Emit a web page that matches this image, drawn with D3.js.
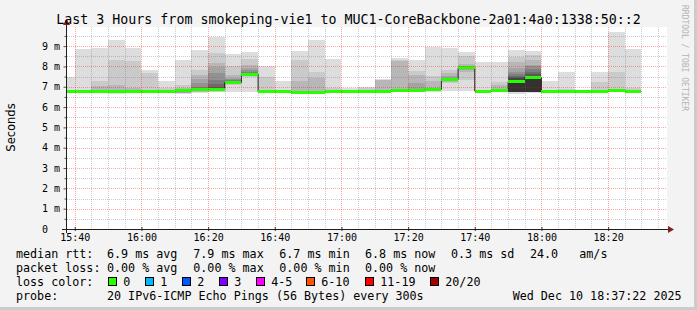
<!DOCTYPE html>
<html>
<head>
<meta charset="utf-8">
<script src="https://cdnjs.cloudflare.com/ajax/libs/d3/7.8.5/d3.min.js"></script>
<style>
  body { margin: 0; background: #f3f3f3; }
  text { font-family: "DejaVu Sans Mono", monospace; fill: #000; }
</style>
</head>
<body>
<div id="chart"></div>
<script>
// 5 minute steps, first one ends 15:40 (UTC used only as a plain clock)
var firstEnd = Date.UTC(2025, 11, 10, 15, 40);
var stepMs = 300 * 1000;

// median rtt per step, ms
var median = [6.76, 6.76, 6.76, 6.76, 6.76, 6.76, 6.76, 6.80, 6.84, 6.88,
              7.21, 7.62, 6.76, 6.76, 6.74, 6.72, 6.78, 6.78, 6.78, 6.79,
              6.83, 6.83, 6.88, 7.37, 7.93, 6.78, 6.82, 7.25, 7.45, 6.76,
              6.76, 6.76, 6.76, 6.81, 6.77];

// smoke: upper edge of each nested band (outermost first), ms
var smokeTop = [
  [7.50], [8.87, 6.85], [8.93, 7.29, 7.05], [9.31, 8.33, 7.08], [8.92, 8.28, 6.92],
  [7.83, 7.67], [7.29, 6.93], [8.33, 7.09, 6.95],
  [8.82, 7.83, 7.59, 7.37, 7.18, 7.01, 6.92],
  [9.43, 8.65, 8.17, 7.95, 7.67, 7.34, 7.12, 6.98],
  [8.61, 8.00, 7.60, 7.45, 7.40, 7.35, 7.30, 7.26],
  [8.69, 8.38, 8.08, 7.92, 7.82, 7.75, 7.70],
  [8.02, 7.50], [7.29], [8.77, 8.30, 7.27], [9.31, 7.75, 7.45], [8.37, 6.93],
  [6.92], [7.01, 6.92], [7.37, 7.34, 7.32], [8.42, 8.30, 8.25],
  [8.33, 7.76, 7.60, 7.16], [8.98, 7.52, 7.27],
  [8.92, 7.83, 7.69, 7.55, 7.45],
  [8.69, 8.52, 8.14, 8.04, 8.00, 7.97],
  [8.22], [8.24, 7.21, 7.08],
  [8.82, 8.44, 8.21, 7.92, 7.75, 7.62, 7.55, 7.50, 7.45, 7.35],
  [8.77, 8.55, 8.34, 8.08, 8.00, 7.85, 7.75, 7.62, 7.54, 7.50],
  [7.26], [7.75, 6.88], [6.82], [7.75, 7.21], [9.67, 7.75, 6.90], [8.87, 6.93]
];

// smoke: lower edge of each nested band (outermost first), ms
var smokeBot = [
  [6.72], [6.72], [6.72], [6.66, 6.70], [6.72],
  [6.72], [6.72], [6.64, 6.68, 6.70, 6.70],
  [6.70, 6.74, 6.76, 6.78],
  [6.72, 6.76, 6.79, 6.82],
  [6.76, 7.08, 7.12, 7.15, 7.17],
  [6.76, 7.50, 7.55, 7.58],
  [6.72], [6.72], [6.70], [6.65, 6.68], [6.72],
  [6.72], [6.72], [6.72, 6.74, 6.76], [6.74, 6.76, 6.78],
  [6.72, 6.75], [6.74, 6.78],
  [6.78, 7.18, 7.22, 7.26, 7.30],
  [6.77, 7.34, 7.75, 7.80, 7.85],
  [6.72], [6.72, 6.74, 6.76],
  [6.64, 6.74, 6.75, 6.75, 6.76, 6.76, 6.76, 6.76, 6.76, 6.76],
  [6.70, 6.73, 6.74, 6.75, 6.76, 6.76, 6.76, 6.76, 6.76, 6.76],
  [6.72], [6.72], [6.72], [6.72], [6.72, 6.74], [6.70]
];

var xTickLabels = ["15:40", "16:00", "16:20", "16:40", "17:00", "17:20", "17:40", "18:00", "18:20"];
var yTicks = [0, 1, 2, 3, 4, 5, 6, 7, 8, 9];

var rttStats = ["6.9 ms avg", "7.9 ms max", "6.7 ms min", "6.8 ms now", "0.3 ms sd", "24.0", "am/s"];
var lossStats = ["0.00 % avg", "0.00 % max", "0.00 % min", "0.00 % now"];
var lossLabels = ["0", "1", "2", "3", "4-5", "6-10", "11-19", "20/20"];
var lossColors = ["#26ff00", "#00b8ff", "#0059ff", "#7e00ff", "#ff00ff", "#ff5500", "#ff0000", "#a10000"];
var probeText = "20 IPv6-ICMP Echo Pings (56 Bytes) every 300s";
var stampText = "Wed Dec 10 18:37:22 2025";
var titleText = "Last 3 Hours from smokeping-vie1 to MUC1-CoreBackbone-2a01:4a0:1338:50::2";

// layout
var width = 697, height = 310;
var plotL = 67, plotR = 667, plotT = 27, plotB = 229;

function clock(hm) {
    var p = hm.split(":");
    return Date.UTC(2025, 11, 10, +p[0], +p[1]);
}

var tStart = Date.UTC(2025, 11, 10, 15, 37, 40);
var x = d3.scaleUtc()
    .domain([tStart, tStart + 3 * 3600 * 1000])
    .range([plotL, plotR]);

var y = d3.scaleLinear()
    .domain([0, 9.94])
    .range([plotB, plotT]);

var svg = d3.select("#chart").append("svg")
    .attr("width", width)
    .attr("height", height);

// background + frame shading
svg.append("rect").attr("width", width).attr("height", height).attr("fill", "#f3f3f3");
svg.append("rect").attr("x", width - 3).attr("y", 0).attr("width", 3).attr("height", height).attr("fill", "#cbcbcb");
svg.append("rect").attr("x", 0).attr("y", height - 3).attr("width", width).attr("height", 3).attr("fill", "#cbcbcb");

// canvas
svg.append("rect")
    .attr("x", plotL).attr("y", plotT)
    .attr("width", plotR - plotL).attr("height", plotB - plotT)
    .attr("fill", "#ffffff");

svg.append("clipPath").attr("id", "plotclip")
    .append("rect")
    .attr("x", plotL).attr("y", plotT)
    .attr("width", plotR - plotL).attr("height", plotB - plotT);

var plot = svg.append("g").attr("clip-path", "url(#plotclip)");

var steps = median.map(function(m, i) {
    var end = firstEnd + i * stepMs;
    return { start: end - stepMs, end: end, median: m, top: smokeTop[i], bot: smokeBot[i] };
});

// smoke bands, outermost (light) to innermost (dark)
var bands = [];
steps.forEach(function(s) {
    for (var k = 0; k < 10; k++) {
        if (s.top[k] === undefined && s.bot[k] === undefined) continue;
        var hi = s.top[k] !== undefined ? s.top[k] : s.median;
        var lo = s.bot[k] !== undefined ? s.bot[k] : s.median;
        bands.push({ start: s.start, end: s.end, lo: lo, hi: hi, k: k });
    }
});

plot.selectAll("rect.smoke")
    .data(bands)
    .enter().append("rect")
    .attr("class", "smoke")
    .attr("x", function(d) { return x(d.start); })
    .attr("width", function(d) { return x(d.end) - x(d.start); })
    .attr("y", function(d) { return y(d.hi); })
    .attr("height", function(d) { return Math.max(0, y(d.lo) - y(d.hi)); })
    .attr("fill", function(d) {
        var g = Math.floor(190 / 10 * (10 - (d.k + 1))) + 50;
        return d3.rgb(g, g, g);
    })
    .attr("shape-rendering", "crispEdges");

// median step line (dark, mostly under the loss colour bar)
var linePts = steps.map(function(s) { return [s.start, s.median]; });
linePts.push([steps[steps.length - 1].end, steps[steps.length - 1].median]);

plot.append("path")
    .datum(linePts)
    .attr("fill", "none")
    .attr("stroke", "#202020")
    .attr("stroke-width", 1)
    .attr("d", d3.line()
        .x(function(d) { return x(d[0]); })
        .y(function(d) { return y(d[1]); })
        .curve(d3.curveStepAfter));

// median bar coloured by loss (all 0 loss here)
plot.selectAll("rect.med")
    .data(steps)
    .enter().append("rect")
    .attr("class", "med")
    .attr("x", function(d) { return x(d.start); })
    .attr("width", function(d) { return x(d.end) - x(d.start); })
    .attr("y", function(d) { return y(d.median) - 1.5; })
    .attr("height", 3)
    .attr("fill", lossColors[0])
    .attr("shape-rendering", "crispEdges");

// grid on top
var grid = svg.append("g").attr("shape-rendering", "crispEdges");
var minorY = d3.range(0.5, 10, 1);
grid.selectAll("line.hy")
    .data(minorY)
    .enter().append("line")
    .attr("x1", plotL).attr("x2", plotR)
    .attr("y1", function(d) { return Math.round(y(d)) + 0.5; })
    .attr("y2", function(d) { return Math.round(y(d)) + 0.5; })
    .attr("stroke", "rgba(110,110,110,0.35)")
    .attr("stroke-dasharray", "1,1");
grid.selectAll("line.my")
    .data(yTicks.slice(1))
    .enter().append("line")
    .attr("x1", plotL).attr("x2", plotR)
    .attr("y1", function(d) { return Math.round(y(d)) + 0.5; })
    .attr("y2", function(d) { return Math.round(y(d)) + 0.5; })
    .attr("stroke", "rgba(255,0,0,0.35)")
    .attr("stroke-dasharray", "1,1");

var minorX = d3.utcMinute.every(5).range(new Date(tStart), new Date(tStart + 3 * 3600 * 1000));
var majorSet = {};
xTickLabels.forEach(function(l) { majorSet[clock(l)] = true; });
grid.selectAll("line.vx")
    .data(minorX)
    .enter().append("line")
    .attr("y1", plotT).attr("y2", plotB)
    .attr("x1", function(d) { return Math.round(x(d)) + 0.5; })
    .attr("x2", function(d) { return Math.round(x(d)) + 0.5; })
    .attr("stroke", function(d) { return majorSet[+d] ? "rgba(255,0,0,0.35)" : "rgba(110,110,110,0.35)"; })
    .attr("stroke-dasharray", "1,1");

// axes
var xAxis = d3.axisBottom(x)
    .tickValues(xTickLabels.map(clock))
    .tickFormat(d3.utcFormat("%H:%M"))
    .tickSize(2);

var gx = svg.append("g")
    .attr("transform", "translate(0," + plotB + ")")
    .call(xAxis);
gx.select(".domain").remove();
gx.selectAll(".tick line").attr("y1", -2).attr("stroke", "#333");
gx.selectAll(".tick text")
    .attr("y", 12).attr("dy", null)
    .style("font-family", "DejaVu Sans Mono")
    .style("font-size", "10px");

var yAxis = d3.axisLeft(y)
    .tickValues(yTicks)
    .tickFormat(function(d) { return d === 0 ? "0  " : d + " m"; })
    .tickSize(3)
    .tickPadding(3.5);

var gy = svg.append("g")
    .attr("transform", "translate(" + (plotL - 0.5) + ",0)")
    .call(yAxis);
gy.select(".domain").remove();
gy.selectAll(".tick line").attr("stroke", "#555");
gy.selectAll(".tick text")
    .style("font-family", "DejaVu Sans Mono")
    .style("font-size", "10px")
    .style("white-space", "pre");

var gyMinor = svg.append("g")
    .attr("transform", "translate(" + (plotL - 0.5) + ",0)")
    .call(d3.axisLeft(y).tickValues(minorY).tickSize(2).tickFormat(""));
gyMinor.select(".domain").remove();
gyMinor.selectAll(".tick line").attr("stroke", "#555");

// axis lines with arrows
svg.append("line")
    .attr("x1", plotL - 5).attr("x2", plotR + 2)
    .attr("y1", plotB + 0.5).attr("y2", plotB + 0.5)
    .attr("stroke", "#1f1f1f");
svg.append("line")
    .attr("x1", plotL - 0.5).attr("x2", plotL - 0.5)
    .attr("y1", plotB + 4).attr("y2", plotT - 3)
    .attr("stroke", "#1f1f1f");
svg.append("path")
    .attr("d", "M" + (plotR + 1) + "," + (plotB - 3) + "L" + (plotR + 7) + "," + (plotB + 0.5) + "L" + (plotR + 1) + "," + (plotB + 4) + "Z")
    .attr("fill", "#7f1f1f");
svg.append("path")
    .attr("d", "M" + (plotL - 4) + "," + (plotT - 2) + "L" + (plotL - 0.5) + "," + (plotT - 8) + "L" + (plotL + 3) + "," + (plotT - 2) + "Z")
    .attr("fill", "#7f1f1f");

// title
svg.append("text")
    .attr("x", width / 2)
    .attr("y", 24)
    .attr("text-anchor", "middle")
    .style("font-size", "13.3px")
    .text(titleText);

// y label
svg.append("text")
    .attr("transform", "translate(15,127.5) rotate(-90)")
    .attr("text-anchor", "middle")
    .style("font-family", "'DejaVu Sans', sans-serif")
    .style("font-size", "11.5px")
    .text("Seconds");

// watermark
svg.append("text")
    .attr("transform", "translate(682,5) rotate(90)")
    .style("font-size", "8px")
    .style("fill", "#b4b4b4")
    .text("RRDTOOL / TOBI OETIKER");

// legend
var legendSize = "11.7px";
var rowY = [258, 272, 286, 300];
var colX = [107, 193.3, 279.3, 365, 451, 530, 579.3];
var rowLabels = ["median rtt:", "packet loss:", "loss color:", "probe:"];

var leg = svg.append("g").style("font-size", legendSize);
rowLabels.forEach(function(l, i) {
    leg.append("text").attr("x", 16).attr("y", rowY[i]).text(l);
});
rttStats.forEach(function(s, i) {
    leg.append("text").attr("x", colX[i]).attr("y", rowY[0]).text(s);
});
lossStats.forEach(function(s, i) {
    leg.append("text").attr("x", colX[i]).attr("y", rowY[1]).text(s);
});

var boxX = [108.5, 145.5, 182.5, 219.5, 256.5, 306.5, 365.5, 430.5];
lossLabels.forEach(function(l, i) {
    leg.append("rect")
        .attr("x", boxX[i]).attr("y", 277.5)
        .attr("width", 8).attr("height", 8)
        .attr("fill", lossColors[i])
        .attr("stroke", "#000");
    leg.append("text").attr("x", boxX[i] + 14.8).attr("y", rowY[2]).text(l);
});

leg.append("text").attr("x", 107).attr("y", rowY[3]).text(probeText);
leg.append("text").attr("x", 512.7).attr("y", rowY[3]).text(stampText);
</script>
</body>
</html>
